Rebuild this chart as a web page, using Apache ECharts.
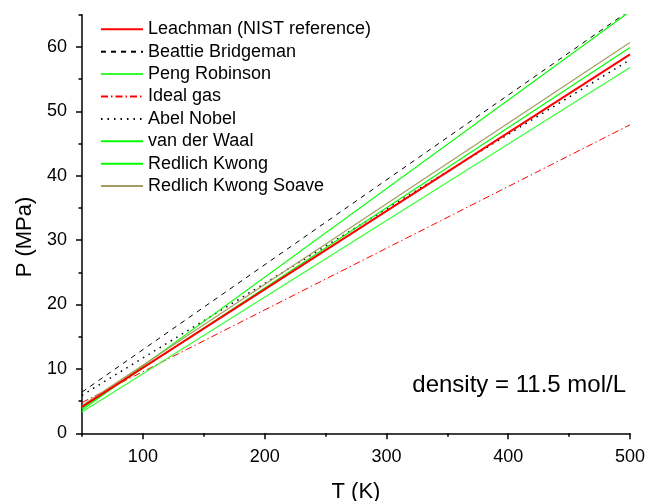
<!DOCTYPE html>
<html>
<head>
<meta charset="utf-8">
<script src="https://cdn.jsdelivr.net/npm/echarts@6/dist/echarts.min.js"></script>
<style>html,body{margin:0;padding:0;background:#fff;}#c{width:646px;height:501px;}</style>
</head>
<body>
<div id="c"></div>
<script>
// Temperature (K) at which each model's pressure was read
const temps = [50, 500];
// Pressure (MPa) per model
const leachman = [4.1, 58.85];
const beattieBridgeman = [6.4, 65.7];
const pengRobinson = [3.3, 56.8];
const idealGas = [4.78, 47.9];
const abelNobel = [5.9, 58.0];
const vanDerWaal = [3.6, 65.5];
const redlichKwong = [3.9, 59.9];
const redlichKwongSoave = [4.3, 60.7];
// Tick labels
const xMajor = [100, 200, 300, 400, 500];
const xMinor = [50, 150, 250, 350, 450];
const yMajor = [0, 10, 20, 30, 40, 50, 60];
const yMinor = [5, 15, 25, 35, 45, 55, 65];

const FONT = 'Liberation Sans, Arial, sans-serif';
const pairs = arr => temps.map((t, i) => [t, arr[i]]);

function line(name, data, color, width, type, z) {
  return {
    name: name, type: 'line', data: pairs(data), symbol: 'none', showSymbol: false,
    lineStyle: { color: color, width: width, type: type },
    itemStyle: { color: color }, z: z || 2, animation: false
  };
}

const chart = echarts.init(document.getElementById('c'), null, { renderer: 'canvas' });
chart.setOption({
  animation: false,
  backgroundColor: '#fff',
  grid: { left: 82, right: 16, top: 14.7, bottom: 67.7, containLabel: false, outerBoundsMode: 'none' },
  legend: {
    left: 100, top: 20.3, orient: 'vertical', padding: 0,
    itemWidth: 42, itemHeight: 18, itemGap: 4.4,
    itemStyle: { opacity: 0, borderWidth: 0 },
    textStyle: { fontSize: 18, color: '#000', fontFamily: FONT },
    data: ['Leachman (NIST reference)', 'Beattie Bridgeman', 'Peng Robinson', 'Ideal gas',
           'Abel Nobel', 'van der Waal', 'Redlich Kwong', 'Redlich Kwong Soave']
  },
  xAxis: [{
    type: 'value', min: 50, max: 500, position: 'bottom',
    axisLine: { onZero: false, lineStyle: { color: '#000', width: 1.5 } },
    axisTick: { customValues: xMajor, length: 6, lineStyle: { color: '#000', width: 1.5 } },
    axisLabel: { customValues: xMajor, fontSize: 18, color: '#000', margin: 15, fontFamily: FONT },
    splitLine: { show: false },
    name: 'T (K)', nameLocation: 'middle', nameGap: 48,
    nameTextStyle: { fontSize: 22, color: '#000', fontFamily: FONT }
  }, {
    type: 'value', min: 50, max: 500, position: 'bottom',
    axisLine: { show: false, onZero: false },
    axisTick: { customValues: xMinor, length: 3.5, lineStyle: { color: '#000', width: 1.5 } },
    axisLabel: { show: false }, splitLine: { show: false }
  }],
  yAxis: [{
    type: 'value', min: 0, max: 65, position: 'left',
    axisLine: { show: true, onZero: false, lineStyle: { color: '#000', width: 1.5 } },
    axisTick: { show: true, customValues: yMajor, length: 6, lineStyle: { color: '#000', width: 1.5 } },
    axisLabel: { customValues: yMajor, fontSize: 18, color: '#000', margin: 15, fontFamily: FONT },
    splitLine: { show: false },
    name: 'P (MPa)', nameLocation: 'middle', nameGap: 39,
    nameTextStyle: { fontSize: 22, color: '#000', fontFamily: FONT, padding: [0, 26, 0, 0] }
  }, {
    type: 'value', min: 0, max: 65, position: 'left',
    axisLine: { show: false, onZero: false },
    axisTick: { show: true, customValues: yMinor, length: 3.5, lineStyle: { color: '#000', width: 1.5 } },
    axisLabel: { show: false }, splitLine: { show: false }
  }],
  graphic: [{
    type: 'text', right: 20, top: 373,
    style: { text: 'density = 11.5 mol/L', font: '24px ' + FONT, fill: '#000' }
  }],
  series: [
    line('Ideal gas', idealGas, '#ff0000', 1, [7, 3, 1.5, 3], 2),
    line('Beattie Bridgeman', beattieBridgeman, '#000000', 1, [5, 5], 2),
    line('Abel Nobel', abelNobel, '#000000', 1.5, [1.5, 5], 2),
    line('Peng Robinson', pengRobinson, '#33ff33', 1.2, 'solid', 3),
    line('van der Waal', vanDerWaal, '#00ff00', 1.2, 'solid', 3),
    line('Redlich Kwong', redlichKwong, '#00ff00', 1.2, 'solid', 3),
    line('Redlich Kwong Soave', redlichKwongSoave, '#a69c62', 1.2, 'solid', 3),
    line('Leachman (NIST reference)', leachman, '#ff0000', 2, 'solid', 4)
  ]
});
</script>
</body>
</html>
